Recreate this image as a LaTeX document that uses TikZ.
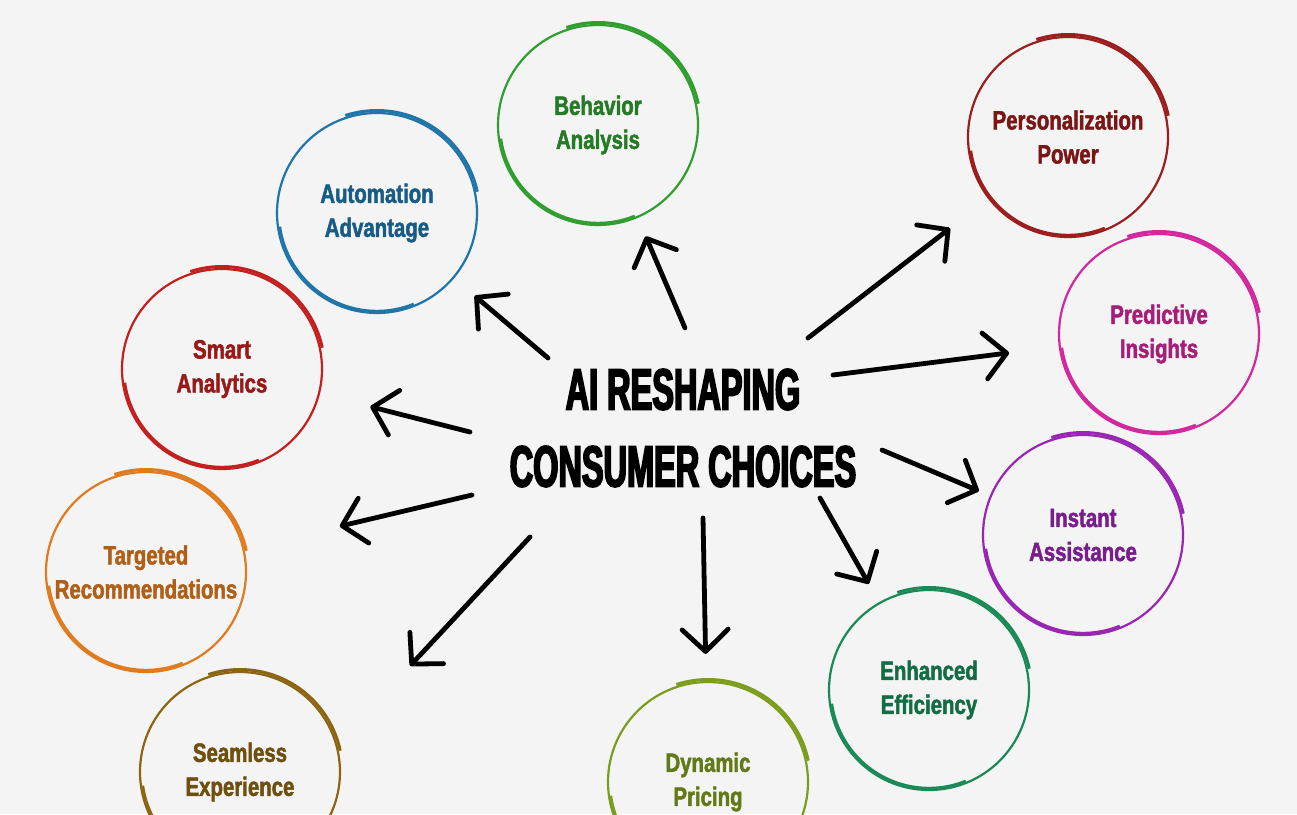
\documentclass[tikz,border=0pt]{standalone}
\usepackage{fontspec}
\usepackage{xcolor}
\usetikzlibrary{arrows.meta}

\newfontfamily\bubblefont[FakeStretch=0.77,FakeBold=1.8]{Liberation Sans Bold}
\newfontfamily\bannerfont[FakeStretch=0.56,FakeBold=3]{Liberation Sans Bold}

\definecolor{bgcol}{HTML}{F4F4F4}
\definecolor{behavcol}{HTML}{2F9E2F}
\definecolor{autocol}{HTML}{1F74AA}
\definecolor{smartcol}{HTML}{C41F1F}
\definecolor{targetcol}{HTML}{E07A1E}
\definecolor{seamcol}{HTML}{8C6512}
\definecolor{dyncol}{HTML}{7C9C1D}
\definecolor{enhcol}{HTML}{198A56}
\definecolor{instcol}{HTML}{9826B3}
\definecolor{predcol}{HTML}{D2279D}
\definecolor{perscol}{HTML}{9B1D1D}

\begin{document}
\begin{tikzpicture}[
    x=1pt, y=-1pt,
    ring/.style={circle,draw=#1,line width=2.2pt,minimum size=200pt,inner sep=0pt,
                 text=#1!78!black,align=center,
                 font=\bubblefont\fontsize{26.5}{34}\selectfont,
                 append after command={\pgfextra{
                   \draw[#1,line width=3pt] (\tikzlastnode.center) ++(12:102.5pt)
                     arc[start angle=12,end angle=108,radius=102.5pt];
                   \draw[#1,line width=2.4pt] (\tikzlastnode.center) ++(188:98pt)
                     arc[start angle=188,end angle=292,radius=98pt];
                 }}},
    arr/.style={-{Straight Barb[length=22pt,width=46pt,round]},line width=4.8pt,
                line cap=round},
  ]

  \path[use as bounding box,fill=bgcol] (0,0) rectangle (1297,814);

  % the ten bubbles, clockwise from the top
  \node[ring=behavcol]  (behav) at (598,125)  {Behavior\\Analysis};
  \node[ring=perscol]   (pers)  at (1068,137) {Personalization\\Power};
  \node[ring=predcol]   (pred)  at (1159,334) {Predictive\\Insights};
  \node[ring=instcol]   (inst)  at (1083,535) {Instant\\Assistance};
  \node[ring=enhcol]    (enh)   at (929,690)  {Enhanced\\Efficiency};
  \node[ring=dyncol]    (dyn)   at (708,782)  {Dynamic\\Pricing};
  \node[ring=seamcol]   (seam)  at (240,772)  {Seamless\\Experience};
  \node[ring=targetcol] (target) at (146,572) {Targeted\\Recommendations};
  \node[ring=smartcol]  (smart) at (222,369)  {Smart\\Analytics};
  \node[ring=autocol]   (auto)  at (377,213)  {Automation\\Advantage};

  % centre title
  \node[font=\bannerfont\fontsize{58}{77}\selectfont,align=center] (title) at (683,428)
    {AI RESHAPING\\CONSUMER CHOICES};

  % arrow tails around the title
  \coordinate (t1)  at (685,328);
  \coordinate (t2)  at (548,358);
  \coordinate (t3)  at (470,432);
  \coordinate (t4)  at (472,495);
  \coordinate (t5)  at (530,537);
  \coordinate (t6)  at (703,518);
  \coordinate (t7)  at (820,498);
  \coordinate (t8)  at (882,450);
  \coordinate (t9)  at (833,375);
  \coordinate (t10) at (808,338);

  % --- arrows out to the bubbles ---
  \draw[arr,shorten >=20pt]  (t1)  -- (behav);
  \draw[arr,shorten >=27pt]  (t2)  -- (auto);
  \draw[arr,shorten >=52pt]  (t3)  -- (smart);
  \draw[arr,shorten >=98pt]  (t4)  -- (target);
  \draw[arr,shorten >=107pt] (t5)  -- (seam.16);
  \draw[arr,shorten >=27pt]  (t6)  -- (dyn);
  \draw[arr,shorten >=21pt]  (t7)  -- (enh);
  \draw[arr,shorten >=12pt]  (t8)  -- (inst);
  \draw[arr,shorten >=50pt]  (t9)  -- (pred);
  \draw[arr,shorten >=48pt]  (t10) -- (pers);

\end{tikzpicture}
\end{document}
